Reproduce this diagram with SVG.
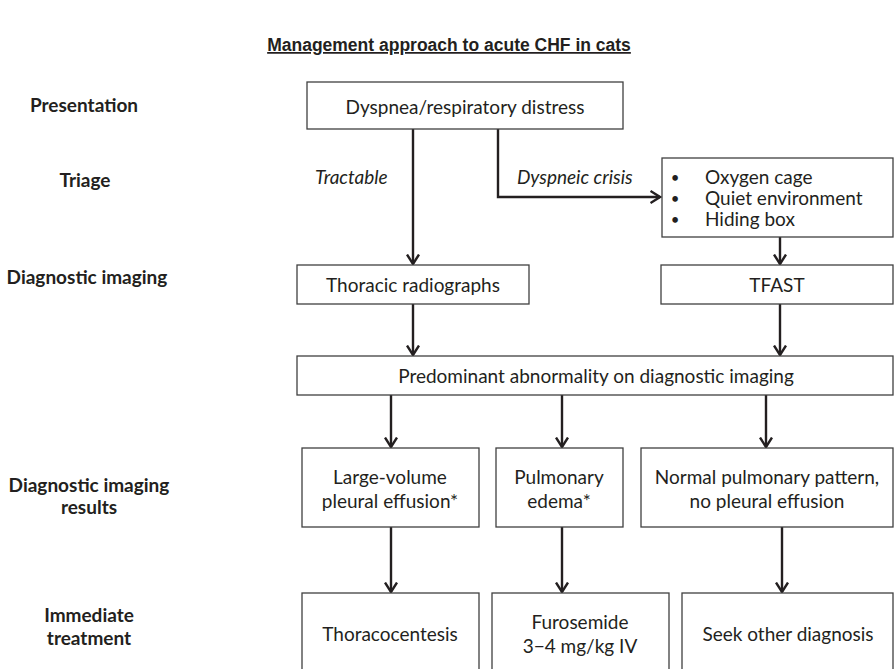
<svg xmlns="http://www.w3.org/2000/svg" width="896" height="669" viewBox="0 0 896 669">
<defs>
<marker id="arr" viewBox="0 0 12 14" refX="10.5" refY="7" markerWidth="12" markerHeight="14" markerUnits="userSpaceOnUse" orient="auto">
<path d="M1,1 L10.5,7 L1,13" fill="none" stroke="#231f20" stroke-width="2.4"/>
</marker>
</defs>
<style>
.bx{fill:#fff;stroke:#404040;stroke-width:1.3}
.t{font-family:Lato,"Liberation Sans",sans-serif;font-size:19px;fill:#231f20;text-anchor:middle}
.tl{font-family:Lato,"Liberation Sans",sans-serif;font-size:19px;fill:#231f20}
.bu{font-family:Lato,"Liberation Sans",sans-serif;font-size:15px;fill:#231f20;text-anchor:middle}
.it{font-family:Lato,"Liberation Sans",sans-serif;font-size:19px;font-style:italic;fill:#231f20}
.lb{font-family:Lato,"Liberation Sans",sans-serif;font-size:19px;font-weight:bold;fill:#231f20;text-anchor:middle}
.ttl{font-family:"Liberation Sans",Arial,sans-serif;font-size:17.5px;font-weight:bold;fill:#231f20;text-anchor:middle;text-decoration:underline}
.c{fill:none;stroke:#231f20;stroke-width:2.4}
</style>
<rect width="896" height="669" fill="#fff"/>
<text class="ttl" x="449" y="51">Management approach to acute CHF in cats</text>

<g id="stage-labels">
<text class="lb" x="84" y="112">Presentation</text>
<text class="lb" x="85" y="187">Triage</text>
<text class="lb" x="87" y="284">Diagnostic imaging</text>
<text class="lb" x="89" y="492">Diagnostic imaging</text>
<text class="lb" x="89" y="514">results</text>
<text class="lb" x="89" y="622">Immediate</text>
<text class="lb" x="89" y="645">treatment</text>
</g>

<g id="connectors">
<line class="c" x1="413" y1="129" x2="413" y2="264" marker-end="url(#arr)"/>
<polyline class="c" points="498,129 498,197 660,197" marker-end="url(#arr)"/>
<line class="c" x1="780" y1="237" x2="780" y2="264" marker-end="url(#arr)"/>
<line class="c" x1="413" y1="304" x2="413" y2="355" marker-end="url(#arr)"/>
<line class="c" x1="780" y1="304" x2="780" y2="355" marker-end="url(#arr)"/>
<line class="c" x1="391" y1="395" x2="391" y2="447" marker-end="url(#arr)"/>
<line class="c" x1="562" y1="395" x2="562" y2="447" marker-end="url(#arr)"/>
<line class="c" x1="766" y1="395" x2="766" y2="447" marker-end="url(#arr)"/>
<line class="c" x1="391" y1="527" x2="391" y2="592" marker-end="url(#arr)"/>
<line class="c" x1="562" y1="527" x2="562" y2="592" marker-end="url(#arr)"/>
<line class="c" x1="782" y1="527" x2="782" y2="592" marker-end="url(#arr)"/>
<text class="it" x="315" y="184">Tractable</text>
<text class="it" x="517" y="184">Dyspneic crisis</text>
</g>

<g id="presentation">
<rect class="bx" x="307" y="82" width="316" height="47"/>
<text class="t" x="465" y="114">Dyspnea/respiratory distress</text>
</g>

<g id="crisis-care">
<rect class="bx" x="662" y="158" width="231" height="79"/>
<text class="bu" x="675" y="183">•</text>
<text class="tl" x="705" y="184">Oxygen cage</text>
<text class="bu" x="675" y="204">•</text>
<text class="tl" x="705" y="205">Quiet environment</text>
<text class="bu" x="675" y="225">•</text>
<text class="tl" x="705" y="226">Hiding box</text>
</g>

<g id="radiographs">
<rect class="bx" x="297" y="265" width="232" height="39"/>
<text class="t" x="413" y="292">Thoracic radiographs</text>
</g>

<g id="tfast">
<rect class="bx" x="661" y="265" width="232" height="39"/>
<text class="t" x="777" y="292">TFAST</text>
</g>

<g id="abnormality">
<rect class="bx" x="297" y="356" width="596" height="39"/>
<text class="t" x="596" y="383">Predominant abnormality on diagnostic imaging</text>
</g>

<g id="effusion">
<rect class="bx" x="302" y="448" width="177" height="79"/>
<text class="t" x="390" y="484">Large-volume</text>
<text class="t" x="390" y="508">pleural effusion*</text>
</g>

<g id="edema">
<rect class="bx" x="496" y="448" width="127" height="79"/>
<text class="t" x="559" y="484">Pulmonary</text>
<text class="t" x="559" y="508">edema*</text>
</g>

<g id="normal">
<rect class="bx" x="641" y="448" width="252" height="79"/>
<text class="t" x="767" y="484">Normal pulmonary pattern,</text>
<text class="t" x="767" y="508">no pleural effusion</text>
</g>

<g id="thoracocentesis">
<rect class="bx" x="302" y="593" width="177" height="90"/>
<text class="t" x="390" y="641">Thoracocentesis</text>
</g>

<g id="furosemide">
<rect class="bx" x="492" y="593" width="177" height="90"/>
<text class="t" x="580" y="629">Furosemide</text>
<text class="t" x="580" y="653">3−4 mg/kg IV</text>
</g>

<g id="other-diagnosis">
<rect class="bx" x="682" y="593" width="211" height="90"/>
<text class="t" x="788" y="641">Seek other diagnosis</text>
</g>
</svg>
